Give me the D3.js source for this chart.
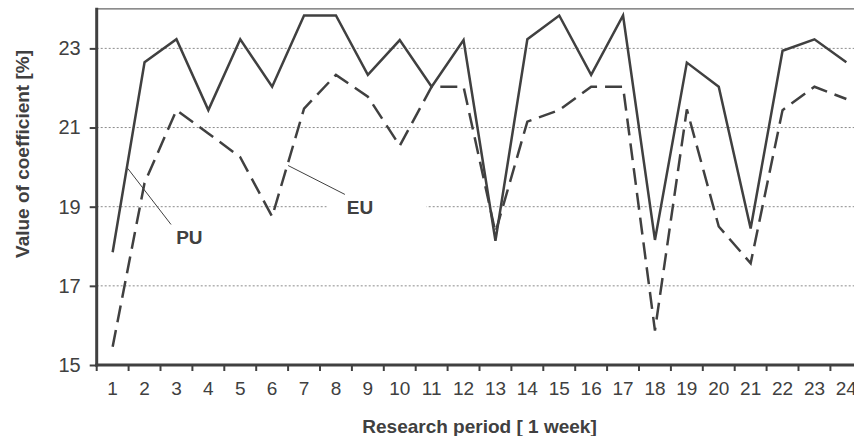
<!DOCTYPE html>
<html>
<head>
<meta charset="utf-8">
<script src="https://cdn.jsdelivr.net/npm/d3@7/dist/d3.min.js"></script>
<style>
  html, body { margin: 0; padding: 0; background: #fff; }
  svg { display: block; font-family: "Liberation Sans", Arial, sans-serif; }
</style>
</head>
<body>
<svg id="chart" width="854" height="436"></svg>
<script>
// ---- data ----
const categories = d3.range(1, 25).map(String);
const puValues = [17.85, 22.65, 23.23, 21.44, 23.23, 22.03, 23.83, 23.83, 22.33, 23.21, 22.03, 23.21,
                  18.14, 23.23, 23.83, 22.33, 23.83, 18.16, 22.64, 22.03, 18.45, 22.94, 23.23, 22.65];
const euValues = [15.46, 19.6, 21.44, 20.85, 20.25, 18.75, 21.48, 22.33, 21.78, 20.54, 22.03, 22.03,
                  18.35, 21.15, 21.44, 22.03, 22.03, 15.87, 21.46, 18.5, 17.57, 21.44, 22.03, 21.72];
const yTicks = [15, 17, 19, 21, 23];
const gridValues = [17, 19, 21, 23];
const yDomain = [15, 24];
const xTitle = "Research period [ 1 week]";
const yTitle = "Value of coefficient [%]";
// annotations in (category units, value units)
const annotations = [
  { label: "PU", from: [0.97, 19.97], to: [2.33, 18.55], text: [2.49, 18.05] },
  { label: "EU", from: [6.0, 20.04], to: [7.78, 19.31], text: [7.84, 18.81], box: [7.21, 10.34, 19.3, 18.62] }
];

(function () {
// ---- layout ----
const svg = d3.select("#chart");
const pLeft = 96.7, pRight = 862.3, pTop = 8.8, pBottom = 365;
const ink = "#404040";

const x = d3.scaleBand().domain(categories).range([pLeft, pRight]).paddingInner(0).paddingOuter(0);
const xc = d3.scaleLinear().domain([0, categories.length]).range([pLeft, pRight]);
const y = d3.scaleLinear().domain(yDomain).range([pBottom, pTop]);

// gridlines
svg.append("g").selectAll("line").data(gridValues).join("line")
  .attr("x1", pLeft).attr("x2", 854)
  .attr("y1", d => y(d)).attr("y2", d => y(d))
  .attr("stroke", "#8c8c8c").attr("stroke-width", 1).attr("stroke-dasharray", "2,2");

// top border
svg.append("line").attr("x1", pLeft).attr("x2", 854).attr("y1", y(24)).attr("y2", y(24))
  .attr("stroke", "#666").attr("stroke-width", 1.2);

// white box behind EU label
annotations.filter(a => a.box).forEach(a => {
  svg.append("rect")
    .attr("x", xc(a.box[0])).attr("width", xc(a.box[1]) - xc(a.box[0]))
    .attr("y", y(a.box[2])).attr("height", y(a.box[3]) - y(a.box[2]))
    .attr("fill", "#fff");
});

// lines
const line = d3.line().x((d, i) => x(categories[i]) + x.bandwidth() / 2).y(d => y(d));
svg.append("path").datum(euValues).attr("d", line)
  .attr("fill", "none").attr("stroke", ink).attr("stroke-width", 2.5)
  .attr("stroke-dasharray", "17,8").attr("stroke-linejoin", "miter");
svg.append("path").datum(puValues).attr("d", line)
  .attr("fill", "none").attr("stroke", ink).attr("stroke-width", 2.5).attr("stroke-linejoin", "miter");

// annotations
annotations.forEach(a => {
  svg.append("line")
    .attr("x1", xc(a.from[0])).attr("y1", y(a.from[1]))
    .attr("x2", xc(a.to[0])).attr("y2", y(a.to[1]))
    .attr("stroke", ink).attr("stroke-width", 1);
  svg.append("text").attr("x", xc(a.text[0])).attr("y", y(a.text[1]))
    .attr("fill", ink).attr("font-weight", "bold").attr("font-size", 19).text(a.label);
});

// axes
const yAxis = d3.axisLeft(y).tickValues(yTicks).tickSize(7).tickPadding(9).tickFormat(d3.format("d"));
const gy = svg.append("g").attr("transform", `translate(${pLeft},0)`).call(yAxis);
gy.select(".domain").remove();
gy.selectAll(".tick line").attr("stroke", ink).attr("stroke-width", 2);
gy.selectAll(".tick text").attr("fill", ink).attr("font-size", 20).attr("font-family", "Liberation Sans, Arial, sans-serif");

const xAxis = d3.axisBottom(x).tickSize(0).tickPadding(16.5);
const gx = svg.append("g").attr("transform", `translate(0,${pBottom})`).call(xAxis);
gx.select(".domain").remove();
gx.selectAll(".tick text").attr("fill", ink).attr("font-size", 19).attr("font-family", "Liberation Sans, Arial, sans-serif");
// boundary ticks
svg.append("g").selectAll("line").data(d3.range(0, categories.length + 1)).join("line")
  .attr("x1", d => xc(d)).attr("x2", d => xc(d))
  .attr("y1", pBottom).attr("y2", pBottom + 6)
  .attr("stroke", ink).attr("stroke-width", 2);

// axis lines
svg.append("line").attr("x1", pLeft).attr("x2", pLeft).attr("y1", pTop - 1).attr("y2", pBottom + 1.5)
  .attr("stroke", ink).attr("stroke-width", 3);
svg.append("line").attr("x1", pLeft - 1.5).attr("x2", 854).attr("y1", pBottom).attr("y2", pBottom)
  .attr("stroke", ink).attr("stroke-width", 3);

// titles
svg.append("text").attr("x", (pLeft + pRight) / 2).attr("y", 432.5)
  .attr("text-anchor", "middle").attr("fill", ink).attr("font-weight", "bold").attr("font-size", 19)
  .text(xTitle);
svg.append("text").attr("transform", `translate(29,154) rotate(-90)`)
  .attr("text-anchor", "middle").attr("fill", ink).attr("font-weight", "bold").attr("font-size", 19)
  .text(yTitle);
})();
</script>
</body>
</html>
